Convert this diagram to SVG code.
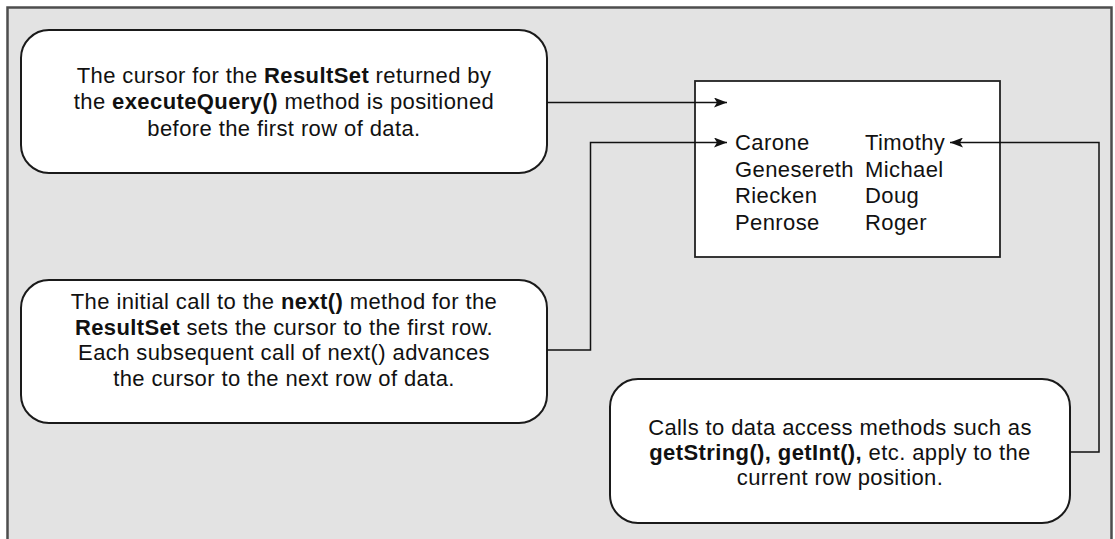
<svg xmlns="http://www.w3.org/2000/svg" width="1115" height="539" viewBox="0 0 1115 539">
<style>
.frame{fill:#e3e3e3;stroke:#4d4d4d;stroke-width:2.5}
.box{fill:#fff;stroke:#1a1a1a;stroke-width:2}
.rs{fill:#fff;stroke:#222;stroke-width:1.8}
.t{font-family:"Liberation Sans",Arial,sans-serif;font-size:22px;letter-spacing:0.4px;fill:#111}
.c{text-anchor:middle}
.b{font-weight:bold}
.con{fill:none;stroke:#111;stroke-width:1.5}
</style>
<defs>
<marker id="ah" markerWidth="14" markerHeight="10" refX="13" refY="5" orient="auto" markerUnits="userSpaceOnUse">
<path d="M0,0 L13,5 L0,10 L3,5 Z" fill="#111"/>
</marker>
</defs>
<rect class="frame" x="7.5" y="7.5" width="1104" height="545"/>
<g id="box1">
<rect class="box" x="21" y="30" width="526" height="143" rx="28"/>
<text class="t c" x="284" y="83">The cursor for the <tspan class="b">ResultSet</tspan> returned by</text>
<text class="t c" x="284" y="109">the <tspan class="b">executeQuery()</tspan> method is positioned</text>
<text class="t c" x="284" y="136">before the first row of data.</text>
</g>
<g id="box2">
<rect class="box" x="21" y="280" width="526" height="143" rx="28"/>
<text class="t c" x="284" y="309">The initial call to the <tspan class="b">next()</tspan> method for the</text>
<text class="t c" x="284" y="335"><tspan class="b">ResultSet</tspan> sets the cursor to the first row.</text>
<text class="t c" x="284" y="360">Each subsequent call of next() advances</text>
<text class="t c" x="284" y="386">the cursor to the next row of data.</text>
</g>
<g id="box3">
<rect class="box" x="610" y="379" width="460" height="144" rx="28"/>
<text class="t c" x="840" y="435">Calls to data access methods such as</text>
<text class="t c" x="840" y="460"><tspan class="b">getString(), getInt(),</tspan> etc. apply to the</text>
<text class="t c" x="840" y="485">current row position.</text>
</g>
<g id="resultset">
<rect class="rs" x="695" y="81" width="305" height="176"/>
<text class="t" x="735" y="150">Carone</text>
<text class="t" x="735" y="177">Genesereth</text>
<text class="t" x="735" y="203">Riecken</text>
<text class="t" x="735" y="230">Penrose</text>
<text class="t" x="865" y="150">Timothy</text>
<text class="t" x="865" y="177">Michael</text>
<text class="t" x="865" y="203">Doug</text>
<text class="t" x="865" y="230">Roger</text>
</g>
<g id="connectors">
<path class="con" d="M547,102.5 H727" marker-end="url(#ah)"/>
<path class="con" d="M547,350 H590.5 V142.5 H727" marker-end="url(#ah)"/>
<path class="con" d="M1070,452 H1099 V142.5 H950" marker-end="url(#ah)"/>
</g>
</svg>
